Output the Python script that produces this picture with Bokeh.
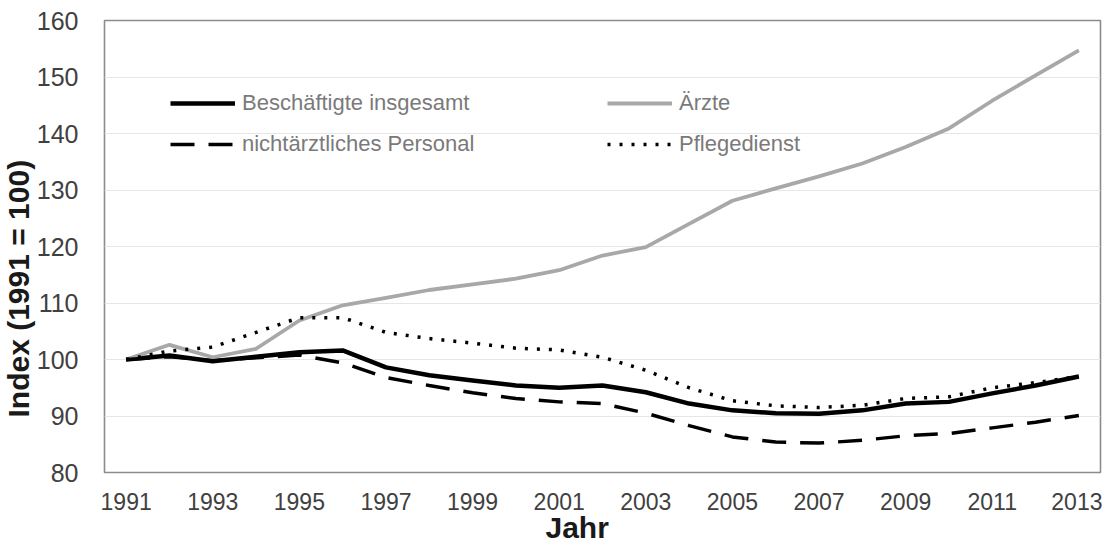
from bokeh.plotting import figure
from bokeh.models import FixedTicker, Legend, LegendItem, Title, Range1d
from bokeh.embed import file_html
from bokeh.resources import INLINE

years = list(range(1991, 2014))
beschaeftigte = [100, 100.7, 99.7, 100.5, 101.3, 101.6, 98.6, 97.2, 96.3, 95.4, 95.0, 95.4,
                 94.2, 92.2, 91.0, 90.5, 90.4, 91.0, 92.2, 92.5, 94.0, 95.4, 97.0]
aerzte = [100, 102.6, 100.4, 101.9, 106.9, 109.6, 110.9, 112.3, 113.3, 114.3, 115.8, 118.4,
          119.9, 124.0, 128.1, 130.3, 132.4, 134.7, 137.6, 140.9, 145.8, 150.3, 154.7]
nichtaerztlich = [100, 100.5, 99.8, 100.3, 100.8, 99.4, 96.8, 95.4, 94.1, 93.1, 92.5, 92.2,
                  90.5, 88.3, 86.3, 85.4, 85.2, 85.7, 86.5, 86.9, 87.9, 88.9, 90.1]
pflegedienst = [100, 101.5, 102.2, 104.8, 107.4, 107.4, 104.8, 103.7, 102.9, 102.0, 101.7, 100.4,
                98.1, 95.0, 92.7, 91.8, 91.5, 91.9, 93.1, 93.4, 95.0, 95.9, 97.0]

x_ticks = list(range(1991, 2014, 2))
y_ticks = list(range(80, 161, 10))

FONT = "Liberation Sans"

p = figure(width=1102, height=545, output_backend="svg", toolbar_location=None,
           x_range=Range1d(1990.5, 2013.5), y_range=Range1d(80, 160),
           min_border_left=102, min_border_right=2, min_border_top=20, min_border_bottom=73)
p.background_fill_color = "white"
p.border_fill_color = "white"
p.outline_line_color = "#8c8c8c"
p.outline_line_width = 1.6

p.xgrid.grid_line_color = None
p.ygrid.grid_line_color = "#e6e6e6"
p.ygrid.grid_line_width = 1
p.ygrid.ticker = FixedTicker(ticks=y_ticks)

p.xaxis.ticker = FixedTicker(ticks=x_ticks)
p.yaxis.ticker = FixedTicker(ticks=y_ticks)
for ax in (p.xaxis[0], p.yaxis[0]):
    ax.axis_line_color = None
    ax.major_tick_line_color = None
    ax.minor_tick_line_color = None
    ax.major_tick_out = 0
    ax.major_tick_in = 0
    ax.minor_tick_out = 0
    ax.major_label_text_font = FONT
    ax.major_label_text_color = "#404040"
p.xaxis.major_label_text_font_size = "23px"
p.yaxis.major_label_text_font_size = "25px"
p.xaxis.major_label_standoff = 20
p.yaxis.major_label_standoff = 26

r_b = p.line(years, beschaeftigte, line_color="black", line_width=4.5, line_join="round")
r_a = p.line(years, aerzte, line_color="#a8a8a8", line_width=3.8, line_join="round")
r_n = p.line(years, nichtaerztlich, line_color="black", line_width=3.5, line_dash="24 14")
r_p = p.line(years, pflegedienst, line_color="black", line_width=3.5, line_dash="3 9")

def mk_legend(items, loc):
    lg = Legend(items=items, location=loc, orientation="vertical")
    lg.border_line_color = None
    lg.background_fill_alpha = 0
    lg.padding = 0
    lg.margin = 0
    lg.spacing = 15
    lg.glyph_width = 65
    lg.glyph_height = 20
    lg.label_height = 20
    lg.label_standoff = 7
    lg.label_text_font = FONT
    lg.label_text_font_size = "22px"
    lg.label_text_color = "#7a7a7a"
    return lg

leg1 = mk_legend([LegendItem(label="Beschäftigte insgesamt", renderers=[r_b]),
                  LegendItem(label="nichtärztliches Personal", renderers=[r_n])], (66, 315))
leg2 = mk_legend([LegendItem(label="Ärzte", renderers=[r_a]),
                  LegendItem(label="Pflegedienst", renderers=[r_p])], (503, 315))
p.add_layout(leg1)
p.add_layout(leg2)

ytitle = Title(text="Index (1991 = 100)", align="left", offset=55, standoff=-2,
               vertical_align="bottom",
               text_font=FONT, text_font_style="bold", text_font_size="30px", text_color="#1a1a1a")
xtitle = Title(text="Jahr", align="left", offset=441, standoff=-8,
               vertical_align="bottom",
               text_font=FONT, text_font_style="bold", text_font_size="30px", text_color="#1a1a1a")
p.add_layout(ytitle, "left")
p.add_layout(xtitle, "below")

open("out.html", "w").write(file_html(p, INLINE))
